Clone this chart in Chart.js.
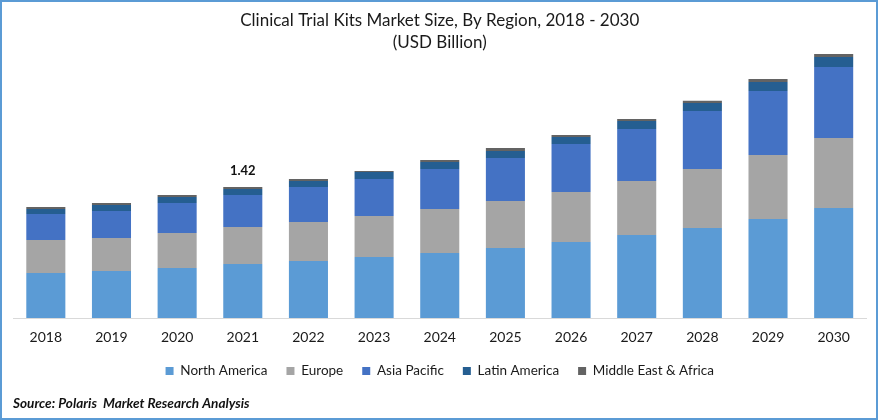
<!DOCTYPE html>
<html><head><meta charset="utf-8">
<script src="https://cdn.jsdelivr.net/npm/chart.js@4"></script>
<style>
html,body{margin:0;padding:0;background:#fff;overflow:hidden}
#w{position:relative;width:878px;height:420px}
#b{position:absolute;inset:0;box-sizing:border-box;border:2px solid #5b9bd5;pointer-events:none}
canvas{display:block}
</style></head><body>
<div id="w"><canvas id="c" width="878" height="420"></canvas><div id="b"></div></div>
<script>
const categories=['2018','2019','2020','2021','2022','2023','2024','2025','2026','2027','2028','2029','2030'];
const northAmerica=[.488,.509,.542,.585,.618,.661,.705,.759,.824,.900,.976,1.073,1.192];
const europe=[.358,.358,.379,.401,.423,.444,.477,.509,.542,.585,.640,.694,.759];
const asiaPacific=[.282,.293,.325,.347,.379,.401,.434,.466,.520,.564,.629,.694,.770];
const latinAmerica=[.054,.065,.065,.065,.065,.076,.076,.076,.076,.087,.087,.098,.108];
const middleEast=[.022,.022,.022,.022,.022,.011,.022,.033,.022,.022,.022,.033,.033];
const annotated={index:3,text:'1.42'};
const FONT='Lato';
const ds=(label,data,color)=>({label,data,backgroundColor:color,borderWidth:0,barPercentage:.595,categoryPercentage:1});
const topLabel={id:'topLabel',afterDatasetsDraw(chart){
  const el=chart.getDatasetMeta(chart.data.datasets.length-1).data[annotated.index];
  const c=chart.ctx;c.save();c.font='bold 13px '+FONT;c.fillStyle='#111';c.textAlign='center';c.textBaseline='middle';
  c.fillText(annotated.text,el.x,el.y-16);c.restore();}};
new Chart(document.getElementById('c'),{type:'bar',
 data:{labels:categories,datasets:[
  ds('North America',northAmerica,'#5b9bd5'),
  ds('Europe',europe,'#a5a5a5'),
  ds('Asia Pacific',asiaPacific,'#4472c4'),
  ds('Latin America',latinAmerica,'#255e91'),
  ds('Middle East & Africa',middleEast,'#636363')]},
 plugins:[topLabel],
 options:{responsive:false,animation:false,devicePixelRatio:1,
  layout:{padding:{left:13,right:11.5,top:10,bottom:7.93}},
  scales:{
   x:{stacked:true,grid:{display:false,drawTicks:false},border:{color:'#d9d9d9',width:1},
      afterFit(s){s.height=27.25;},
      ticks:{color:'#1a1a1a',font:{family:FONT,size:14},padding:11,maxRotation:0}},
   y:{stacked:true,display:false,min:0,max:2.862}},
  plugins:{
   tooltip:{enabled:false},
   title:{display:true,text:['Clinical Trial Kits Market Size, By Region, 2018 - 2030','(USD Billion)'],color:'#1a1a1a',font:{family:FONT,size:17,weight:'normal',lineHeight:1.294},padding:0},
   subtitle:{display:true,position:'bottom',align:'start',text:'Source: Polaris  Market Research Analysis',color:'#111',font:{family:FONT,size:13.6,weight:'bold',style:'italic'},padding:{top:8,bottom:0}},
   legend:{position:'bottom',labels:{boxWidth:8,boxHeight:8,padding:19,color:'#1a1a1a',font:{family:FONT,size:13.5}}}
  }}});
</script></body></html>
